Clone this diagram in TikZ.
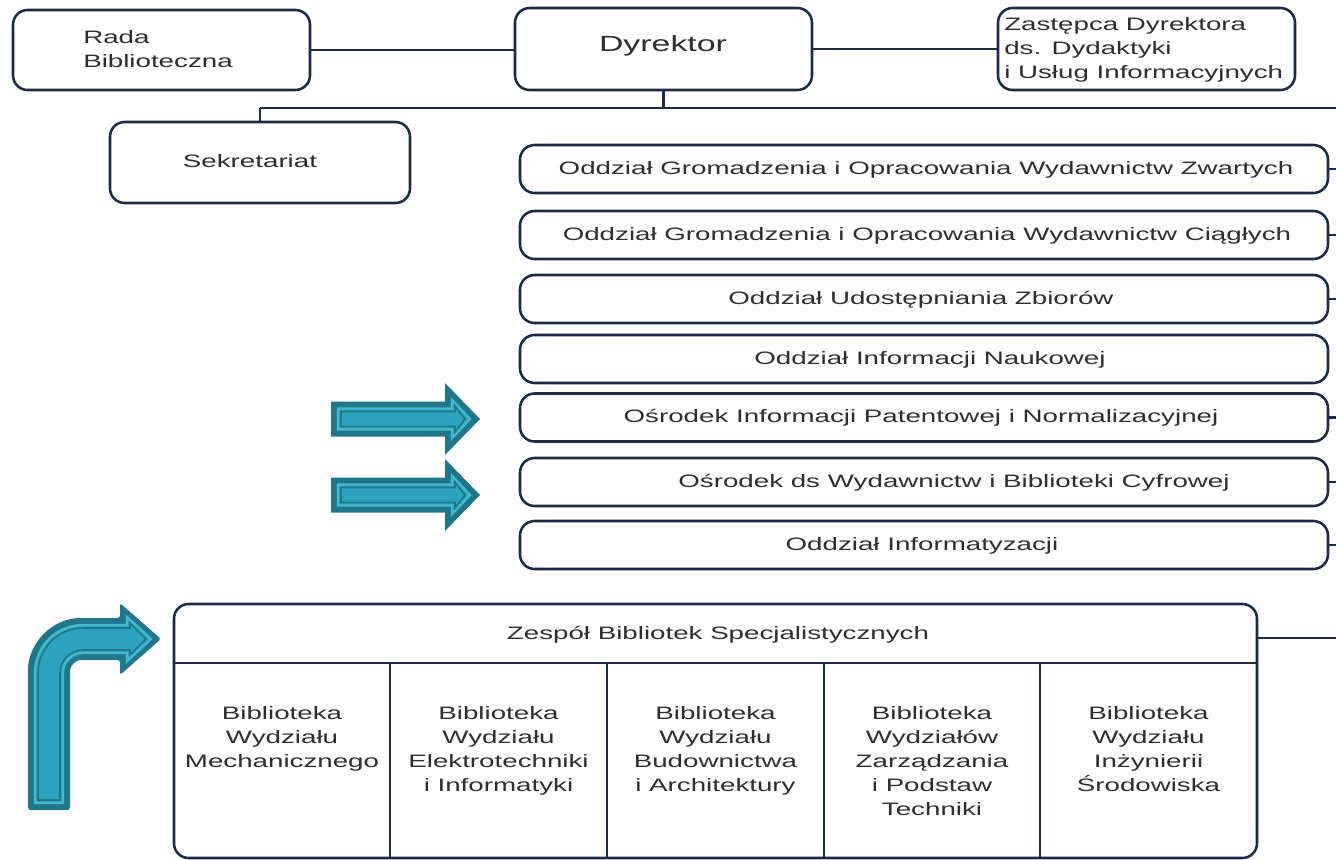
\documentclass[tikz,border=0pt]{standalone}
\usepackage{fontspec}
\setmainfont[FakeStretch=1.54]{Liberation Sans}
\definecolor{navy}{HTML}{1B2A48}
\definecolor{txt}{HTML}{2E2E30}
\definecolor{tealD}{HTML}{21778A}
\definecolor{tealL}{HTML}{2CA2BE}
\definecolor{tealLine}{HTML}{45B8D0}
\begin{document}
\begin{tikzpicture}[x=0.75pt,y=-0.75pt,
  box/.style 2 args={draw=navy, line width=1.9pt, rounded corners=11pt, inner sep=0pt,
     minimum width=#1*0.75pt, minimum height=#2*0.75pt},
  conn/.style={draw=navy, line width=1.8pt},
  lbl/.style={text=txt, font=\fontsize{13.5}{18}\selectfont, inner sep=0pt, align=center},
  big/.style={text=txt, font=\fontsize{16.5}{20}\selectfont, inner sep=0pt},
]
\useasboundingbox (0,0) rectangle (1336,860);
\fill[white] (0,0) rectangle (1336,860);
\coordinate (edge) at (1336,0);

% top row
\node[box={297}{80}] (rada) at (161.5,50) {};
\node[lbl, align=left, anchor=west] (radaT) at (83,49) {Rada\\Biblioteczna};
\node[box={297}{82}] (dyr) at (663.5,49) {};
\node[big] (dyrT) at (663,46) {Dyrektor};
\node[box={297}{82}] (zast) at (1146.5,49) {};
\node[lbl, align=left, anchor=west] (zastT) at (1004,50) {Zastępca Dyrektora\\ds. Dydaktyki\\i Usług Informacyjnych};

\draw[conn] (rada.east) -- (rada.east -| dyr.west);
\draw[conn] (dyr.east) -- (zast.west);

% bus
\coordinate (busL) at (260,108);
\draw[conn] (dyr.south) -- (dyr.south |- busL);
\draw[conn] (busL) -- (busL -| edge);

\node[box={300}{81}] (sek) at (260,162.5) {};
\node[lbl] (sekT) at (250,161) {Sekretariat};
\draw[conn] (sek.north) -- (busL);

% list boxes
\node[box={808}{48}] (l1) at (924,169) {};
\node[lbl] (l1T) at (926,170) {Oddział Gromadzenia i Opracowania Wydawnictw Zwartych};
\node[box={808}{48}] (l2) at (924,235) {};
\node[lbl] (l2T) at (927,236) {Oddział Gromadzenia i Opracowania Wydawnictw Ciągłych};
\node[box={808}{48}] (l3) at (924,299) {};
\node[lbl] (l3T) at (921,300) {Oddział Udostępniania Zbiorów};
\node[box={808}{48}] (l4) at (924,359) {};
\node[lbl] (l4T) at (930,360) {Oddział Informacji Naukowej};
\node[box={808}{48}] (l5) at (924,417.5) {};
\node[lbl] (l5T) at (921,418) {Ośrodek Informacji Patentowej i Normalizacyjnej};
\node[box={808}{48}] (l6) at (924,482) {};
\node[lbl] (l6T) at (954,483) {Ośrodek ds Wydawnictw i Biblioteki Cyfrowej};
\node[box={808}{48}] (l7) at (924,545) {};
\node[lbl] (l7T) at (922,546) {Oddział Informatyzacji};

\foreach \n in {l1,l2,l3,l5,l6,l7}
  \draw[conn] (\n.east) -- (\n.east -| edge);

% Zespol
\node[box={1083}{254}] (zesp) at (715.5,731) {};
\node[lbl] (zespT) at (718,635) {Zespół Bibliotek Specjalistycznych};
\draw[navy, line width=1.9pt] (174,663) -- (1257,663);
\foreach \x in {390,607,824,1040}
  \draw[navy, line width=1.9pt] (\x,663) -- (\x,858);
\node[lbl, anchor=north] (c1) at (282,706) {Biblioteka\\Wydziału\\Mechanicznego};
\node[lbl, anchor=north] (c2) at (498.5,706) {Biblioteka\\Wydziału\\Elektrotechniki\\i Informatyki};
\node[lbl, anchor=north] (c3) at (715.5,706) {Biblioteka\\Wydziału\\Budownictwa\\i Architektury};
\node[lbl, anchor=north] (c4) at (932,706) {Biblioteka\\Wydziałów\\Zarządzania\\i Podstaw\\Techniki};
\node[lbl, anchor=north] (c5) at (1148.5,706) {Biblioteka\\Wydziału\\Inżynierii\\Środowiska};
\coordinate (zs) at (1257,638);
\draw[conn] (zs) -- (zs -| edge);

% straight arrows
\foreach \yy in {419,495}{
\begin{scope}[shift={(0,\yy)}]
\fill[tealD] (331,-17.5) -- (445,-17.5) -- (445,-36) -- (480,0) -- (445,36) -- (445,17.5) -- (331,17.5) -- cycle;
\filldraw[fill=tealL, draw=tealLine, line width=1.8pt] (338,-10.5) -- (452,-10.5) -- (452,-19) -- (470,0) -- (452,19) -- (452,10.5) -- (338,10.5) -- cycle;
\draw[tealD, line width=1.2pt] (341,-7.5) -- (455,-7.5) -- (455,-13) -- (465,0) -- (455,13) -- (455,7.5) -- (341,7.5) -- cycle;
\end{scope}}

% bent arrow
\fill[tealD, rounded corners=2pt] (28,810) -- (28,673) arc(180:270:55) -- (120,618) -- (120,603) -- (161,639) -- (120,675) -- (120,660) -- (83,660) arc(270:180:13) -- (70,810) -- cycle;
\filldraw[fill=tealL, draw=tealLine, line width=1.8pt] (35,803) -- (35,673) arc(180:270:48) -- (127,625) -- (127,617) -- (151,639) -- (127,661) -- (127,653) -- (83,653) arc(270:180:20) -- (63,803) -- cycle;
\draw[tealD, line width=1.2pt] (38,800) -- (38,673) arc(180:270:45) -- (130,628) -- (130,623) -- (146,639) -- (130,655) -- (130,650) -- (83,650) arc(270:180:23) -- (60,800) -- cycle;
\end{tikzpicture}
\end{document}
